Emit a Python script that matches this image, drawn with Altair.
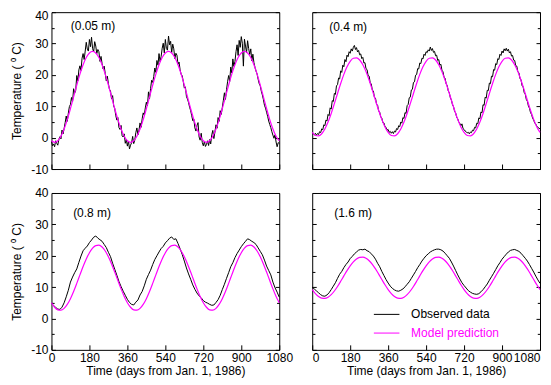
import altair as alt
import pandas as pd

FONT = "Liberation Sans"
MAGENTA = "#ff00ff"

# ---------------- data ----------------
obs_days_5 = list(range(0, 1081, 5))     # sampling grid of the 0.05 m and 0.4 m records
obs_days_10 = list(range(0, 1081, 10))   # sampling grid of the 0.8 m and 1.6 m records
model_days = list(range(0, 1081, 15))    # sampling grid of the model curves

x_ticks = [0, 180, 360, 540, 720, 900, 1080]
y_major = [-10, 0, 10, 20, 30, 40]
y_minor = [-5, 5, 15, 25, 35]

depth_labels = ["(0.05 m)", "(0.4 m)", "(0.8 m)", "(1.6 m)"]
series_names = ["Observed data", "Model prediction"]

obs_005 = [
    -1.2, -2.6, -2.0, -2.9, -1.0, -1.8, -2.4, -0.6, 0.3, -0.4, 2.4, 1.2,
    2.9, 4.8, 6.9, 5.2, 7.8, 9.9, 10.6, 12.8, 11.4, 15.6, 14.2, 15.1,
    19.8, 18.1, 21.6, 22.9, 21.4, 25.3, 26.8, 24.9, 27.6, 30.4, 28.2, 27.6,
    31.3, 29.0, 32.0, 28.4, 27.4, 30.6, 29.2, 26.8, 28.1, 27.4, 24.3, 25.9,
    23.6, 21.9, 22.8, 20.4, 18.1, 19.6, 17.2, 15.4, 14.9, 12.3, 13.4, 10.1,
    9.3, 7.0, 5.6, 6.4, 3.2, 2.6, 3.9, 0.6, 0.2, 1.2, -1.8, -0.6,
    -2.7, -1.1, -3.6, -2.4, -1.6, 0.4, -1.9, -0.8, 1.6, 3.1, 0.9, 2.4,
    4.7, 3.3, 6.0, 7.9, 7.2, 9.5, 11.3, 10.1, 14.6, 12.4, 15.7, 18.3,
    17.6, 19.5, 22.2, 20.8, 24.6, 23.1, 26.8, 24.2, 25.9, 28.5, 30.1, 27.0,
    31.3, 28.4, 27.9, 32.4, 29.6, 30.7, 27.1, 29.8, 28.3, 25.2, 26.9, 26.3,
    23.4, 24.1, 21.6, 20.2, 19.7, 17.9, 15.8, 16.2, 13.1, 12.3, 11.2, 9.7,
    8.6, 7.0, 5.4, 5.9, 3.1, 2.1, 3.9, 4.8, 0.2, -0.8, 1.4, -1.5,
    -2.6, -1.2, -2.8, -2.2, -1.0, -2.5, -0.6, -2.0, 0.9, 2.3, -0.3, 1.8,
    4.1, 3.0, 6.4, 5.2, 8.6, 7.4, 9.6, 11.9, 14.3, 12.2, 15.3, 17.8,
    19.8, 17.9, 22.5, 20.6, 25.1, 22.7, 24.3, 27.4, 29.6, 26.2, 31.0, 28.8,
    32.2, 30.1, 22.8, 31.4, 29.2, 27.1, 30.9, 28.4, 26.5, 28.3, 24.5, 26.6,
    23.9, 22.4, 21.2, 20.3, 18.6, 17.2, 16.5, 14.8, 13.6, 12.1, 10.3, 9.4,
    8.1, 6.8, 5.3, 4.2, 3.2, 1.9, 0.8, -0.2, 0.9, -1.4, -2.9, -1.6,
    -1.8,
]

obs_04 = [
    1.5, 1.2, 0.9, 1.4, 0.8, 1.3, 1.0, 1.9, 1.6, 2.8, 2.5, 4.1,
    3.8, 5.6, 5.3, 7.4, 7.0, 9.5, 9.1, 11.8, 11.5, 14.1, 13.8, 16.5,
    16.9, 19.0, 18.7, 21.3, 20.8, 23.1, 22.6, 24.9, 24.2, 26.3, 25.8, 27.4,
    26.9, 28.3, 27.6, 28.8, 29.4, 28.1, 28.7, 27.3, 27.8, 26.4, 26.7, 25.2,
    25.6, 23.8, 23.9, 22.0, 21.7, 19.8, 19.6, 17.5, 17.1, 15.2, 14.9, 12.8,
    12.6, 10.7, 10.3, 8.5, 8.1, 6.6, 6.2, 4.8, 4.7, 3.5, 3.3, 2.4,
    2.6, 1.7, 2.0, 1.4, 1.9, 1.3, 2.1, 1.8, 2.9, 2.6, 3.8, 3.5,
    5.0, 4.6, 6.4, 6.1, 8.0, 7.7, 10.2, 10.6, 12.7, 12.9, 15.2, 15.4,
    17.6, 17.8, 19.9, 20.1, 22.0, 21.9, 23.8, 23.6, 25.3, 25.1, 26.6, 26.2,
    27.4, 27.1, 28.0, 27.6, 28.9, 27.8, 28.4, 27.2, 27.5, 26.1, 26.3, 24.6,
    24.9, 23.1, 23.4, 21.5, 21.0, 19.3, 18.9, 17.2, 16.6, 14.9, 14.3, 12.7,
    12.0, 10.5, 9.9, 8.4, 7.9, 6.5, 6.0, 4.9, 4.6, 3.8, 4.4, 2.9,
    2.6, 2.1, 1.9, 1.5, 1.7, 1.2, 1.8, 1.6, 2.4, 2.2, 3.3, 3.1,
    4.6, 4.4, 6.3, 6.0, 8.2, 7.9, 10.5, 10.3, 12.9, 12.6, 15.1, 15.0,
    17.4, 17.2, 19.6, 19.4, 21.7, 21.5, 23.6, 23.3, 25.2, 24.9, 26.6, 26.2,
    27.6, 27.0, 28.3, 27.7, 28.5, 27.6, 28.2, 27.0, 27.4, 26.0, 26.2, 24.7,
    24.6, 22.9, 22.8, 21.0, 20.7, 18.9, 18.4, 16.6, 16.2, 14.4, 13.9, 12.2,
    11.6, 10.1, 9.4, 8.0, 7.4, 6.2, 5.6, 4.7, 4.3, 3.6, 3.3, 3.0,
    2.8,
]

obs_08 = [
    4.8, 4.2, 3.5, 3.0, 2.9, 3.6, 5.0, 6.9, 9.0, 11.6, 13.2, 14.6,
    15.8, 17.9, 19.9, 21.6, 22.4, 23.1, 24.2, 25.0, 25.9, 26.3, 25.6, 25.1,
    24.6, 23.6, 22.6, 21.1, 19.7, 17.6, 15.7, 13.8, 11.8, 10.2, 8.7, 7.4,
    6.1, 5.1, 4.5, 4.3, 5.2, 5.9, 7.5, 8.6, 10.4, 12.5, 14.0, 15.4,
    17.2, 18.8, 20.0, 21.2, 22.3, 23.0, 24.1, 24.8, 25.6, 26.0, 25.2, 25.4,
    23.9, 22.2, 20.4, 18.3, 16.1, 14.2, 12.5, 10.7, 9.3, 8.1, 7.2, 6.6,
    5.7, 5.2, 4.9, 4.5, 4.2, 4.3, 5.1, 6.0, 7.4, 9.2, 10.9, 12.8,
    14.6, 16.5, 17.8, 19.4, 20.7, 21.8, 22.9, 23.8, 24.6, 25.4, 25.1, 24.6,
    24.2, 23.6, 22.5, 21.4, 20.3, 18.6, 16.7, 15.3, 13.9, 11.6, 9.8, 8.4,
    6.8,
]

obs_16 = [
    10.0, 9.4, 8.8, 8.2, 7.6, 7.2, 7.1, 7.5, 8.2, 9.2, 10.3, 11.4,
    12.8, 14.1, 15.0, 16.2, 17.2, 18.0, 19.1, 19.8, 20.6, 21.2, 21.8, 22.0,
    21.9, 22.1, 21.6, 21.3, 20.6, 19.9, 18.9, 17.6, 16.5, 15.0, 13.7, 12.4,
    11.3, 10.3, 9.6, 9.1, 8.8, 8.7, 9.0, 9.4, 10.1, 10.9, 11.7, 12.8,
    13.9, 15.0, 16.2, 17.2, 18.3, 19.2, 20.0, 20.6, 21.2, 21.6, 21.9, 22.1,
    22.1, 21.9, 21.5, 20.8, 20.0, 19.2, 18.0, 16.7, 15.3, 13.9, 12.6, 11.4,
    10.5, 9.7, 8.9, 8.4, 8.0, 7.8, 7.7, 7.9, 8.5, 9.2, 10.1, 11.0,
    12.2, 13.3, 14.4, 15.6, 16.8, 17.8, 18.9, 19.7, 20.5, 21.2, 21.7, 21.9,
    22.0, 21.7, 21.4, 20.8, 20.0, 19.2, 18.3, 17.2, 16.0, 14.8, 13.5, 12.3,
    11.2,
]

mod_005 = [
    -1.0, -1.5, -1.0, 0.44, 2.75, 5.75, 9.25, 13.0, 16.75, 20.25, 23.25, 25.56,
    27.0, 27.5, 27.0, 25.56, 23.25, 20.25, 16.75, 13.0, 9.25, 5.75, 2.75, 0.44,
    -1.0, -1.5, -1.0, 0.44, 2.75, 5.75, 9.25, 13.0, 16.75, 20.25, 23.25, 25.56,
    27.0, 27.5, 27.0, 25.56, 23.25, 20.25, 16.75, 13.0, 9.25, 5.75, 2.75, 0.44,
    -1.0, -1.5, -1.0, 0.44, 2.75, 5.75, 9.25, 13.0, 16.75, 20.25, 23.25, 25.56,
    27.0, 27.5, 27.0, 25.56, 23.25, 20.25, 16.75, 13.0, 9.25, 5.75, 2.75, 0.44,
    -1.0,
]

mod_04 = [
    1.67, 0.69, 0.55, 1.25, 2.76, 4.96, 7.71, 10.83, 14.09, 17.28, 20.17, 22.58,
    24.33, 25.31, 25.45, 24.75, 23.24, 21.04, 18.29, 15.17, 11.91, 8.72, 5.83, 3.42,
    1.67, 0.69, 0.55, 1.25, 2.76, 4.96, 7.71, 10.83, 14.09, 17.28, 20.17, 22.58,
    24.33, 25.31, 25.45, 24.75, 23.24, 21.04, 18.29, 15.17, 11.91, 8.72, 5.83, 3.42,
    1.67, 0.69, 0.55, 1.25, 2.76, 4.96, 7.71, 10.83, 14.09, 17.28, 20.17, 22.58,
    24.33, 25.31, 25.45, 24.75, 23.24, 21.04, 18.29, 15.17, 11.91, 8.72, 5.83, 3.42,
    1.67,
]

mod_08 = [
    5.03, 3.58, 2.76, 2.64, 3.22, 4.48, 6.31, 8.60, 11.19, 13.90, 16.56, 18.97,
    20.97, 22.42, 23.24, 23.36, 22.78, 21.52, 19.69, 17.40, 14.81, 12.10, 9.44, 7.03,
    5.03, 3.58, 2.76, 2.64, 3.22, 4.48, 6.31, 8.60, 11.19, 13.90, 16.56, 18.97,
    20.97, 22.42, 23.24, 23.36, 22.78, 21.52, 19.69, 17.40, 14.81, 12.10, 9.44, 7.03,
    5.03, 3.58, 2.76, 2.64, 3.22, 4.48, 6.31, 8.60, 11.19, 13.90, 16.56, 18.97,
    20.97, 22.42, 23.24, 23.36, 22.78, 21.52, 19.69, 17.40, 14.81, 12.10, 9.44, 7.03,
    5.03,
]

mod_16 = [
    9.21, 7.94, 7.02, 6.50, 6.43, 6.80, 7.59, 8.76, 10.21, 11.85, 13.57, 15.26,
    16.79, 18.06, 18.98, 19.50, 19.57, 19.20, 18.41, 17.24, 15.79, 14.15, 12.43, 10.74,
    9.21, 7.94, 7.02, 6.50, 6.43, 6.80, 7.59, 8.76, 10.21, 11.85, 13.57, 15.26,
    16.79, 18.06, 18.98, 19.50, 19.57, 19.20, 18.41, 17.24, 15.79, 14.15, 12.43, 10.74,
    9.21, 7.94, 7.02, 6.50, 6.43, 6.80, 7.59, 8.76, 10.21, 11.85, 13.57, 15.26,
    16.79, 18.06, 18.98, 19.50, 19.57, 19.20, 18.41, 17.24, 15.79, 14.15, 12.43, 10.74,
    9.21,
]

# ---------------- layout ----------------
W, H = 228, 157
Y_TITLE = "Temperature (\u00a0\u2070\u00a0C)"
X_TITLE = "Time (days from Jan. 1, 1986)"


def make_panel(label, lab_x, lab_y, obs_days, obs_vals, mod_vals, x_labels, y_labels,
               legend=False, top_label_flush=False, x_flush=False):
    obs_df = pd.DataFrame({"day": obs_days, "temp": obs_vals, "series": series_names[0]})
    mod_df = pd.DataFrame({"day": model_days, "temp": mod_vals, "series": series_names[1]})
    xs = alt.Scale(domain=[0, 1080], nice=False, zero=False)
    ys = alt.Scale(domain=[-10, 40], nice=False, zero=False)

    x_kw = dict(orient="bottom", values=x_ticks, ticks=False, tickSize=0, domain=False,
                grid=False, labelPadding=3, title=X_TITLE, titlePadding=2,
                labelExpr="datum.value + ''")
    x_kw["labelFlush"] = 3 if x_flush else False
    x_axis = alt.Axis(**x_kw) if x_labels else None

    y_kw = dict(orient="left", values=y_major, ticks=False, tickSize=0, domain=False,
                grid=False, labelPadding=3.5, title=Y_TITLE, titlePadding=7.5,
                labelExpr="datum.value + ''")
    if top_label_flush:
        y_kw["labelBaseline"] = {"condition": {"test": "datum.value == 40", "value": "top"},
                                 "value": "middle"}
        y_kw["labelOffset"] = {"condition": {"test": "datum.value == 40", "value": -2},
                               "value": 0}
    y_axis = alt.Axis(**y_kw) if y_labels else None

    if legend:
        obs_color = alt.Color("series:N", scale=alt.Scale(domain=[series_names[0]], range=["black"]),
                              legend=alt.Legend(orient="none", legendX=61, legendY=108, title=None,
                                                symbolType="stroke", symbolSize=655,
                                                symbolStrokeWidth=1, labelColor="black",
                                                labelOffset=11, padding=0))
        mod_color = alt.Color("series:N", scale=alt.Scale(domain=[series_names[1]], range=[MAGENTA]),
                              legend=alt.Legend(orient="none", legendX=61, legendY=126.7, title=None,
                                                symbolType="stroke", symbolSize=655,
                                                symbolStrokeWidth=1, labelColor=MAGENTA,
                                                labelOffset=11, padding=0))
    else:
        obs_color = alt.value("black")
        mod_color = alt.value(MAGENTA)

    obs = alt.Chart(obs_df).mark_line(strokeWidth=1).encode(
        x=alt.X("day:Q", scale=xs, axis=x_axis),
        y=alt.Y("temp:Q", scale=ys, axis=y_axis),
        color=obs_color,
    )
    mod = alt.Chart(mod_df).mark_line(strokeWidth=1.2, interpolate="monotone").encode(
        x=alt.X("day:Q", scale=xs,
                axis=alt.Axis(orient="top", offset=-H, values=x_ticks, labels=False, domain=False,
                              grid=False, tickSize=5, title=None)),
        y=alt.Y("temp:Q", scale=ys,
                axis=alt.Axis(orient="right", offset=-W, values=y_major, labels=False, domain=False,
                              grid=False, tickSize=4, title=None)),
        color=mod_color,
    )

    def tick_layer(orient, values, size):
        return alt.Chart(mod_df).mark_line(strokeOpacity=0).encode(
            x=alt.X("day:Q", scale=xs, axis=None),
            y=alt.Y("temp:Q", scale=ys,
                    axis=alt.Axis(orient=orient, offset=-W, values=values, labels=False,
                                  domain=False, grid=False, tickSize=size, title=None)),
        )

    text = alt.Chart(pd.DataFrame({"label": [label]})).mark_text(
        align="left", baseline="middle", font=FONT, fontSize=12, color="black"
    ).encode(x=alt.value(lab_x), y=alt.value(lab_y), text="label:N")

    layer = alt.layer(
        obs, mod,
        tick_layer("right", y_minor, 2.7),
        tick_layer("left", y_major, 4),
        tick_layer("left", y_minor, 2.7),
        text,
    ).resolve_axis(x="independent", y="independent").properties(width=W, height=H)
    if legend:
        layer = layer.resolve_scale(color="independent")
    return layer


p1 = make_panel(depth_labels[0], 19.3, 14.3, obs_days_5, obs_005, mod_005, False, True,
                top_label_flush=True)
p2 = make_panel(depth_labels[1], 17, 15.2, obs_days_5, obs_04, mod_04, False, False)
p3 = make_panel(depth_labels[2], 21.7, 20.3, obs_days_10, obs_08, mod_08, True, True)
p4 = make_panel(depth_labels[3], 22, 19.7, obs_days_10, obs_16, mod_16, True, False,
                legend=True, x_flush=True)

chart = alt.concat(
    p1, p2, p3, p4, columns=2, spacing={"row": 24, "column": 33}, bounds="flush"
).properties(
    padding={"left": 1.5, "top": 0, "right": 0, "bottom": 0},
    background="white",
).configure_view(
    stroke="black", strokeWidth=1
).configure_axis(
    labelFont=FONT, labelFontSize=12, labelColor="black",
    titleFont=FONT, titleFontSize=12, titleFontWeight="normal", titleColor="black",
    tickColor="black", tickWidth=1,
).configure_legend(
    labelFont=FONT, labelFontSize=12,
)

chart.save("out.html", embed_options={"renderer": "svg", "actions": False})
